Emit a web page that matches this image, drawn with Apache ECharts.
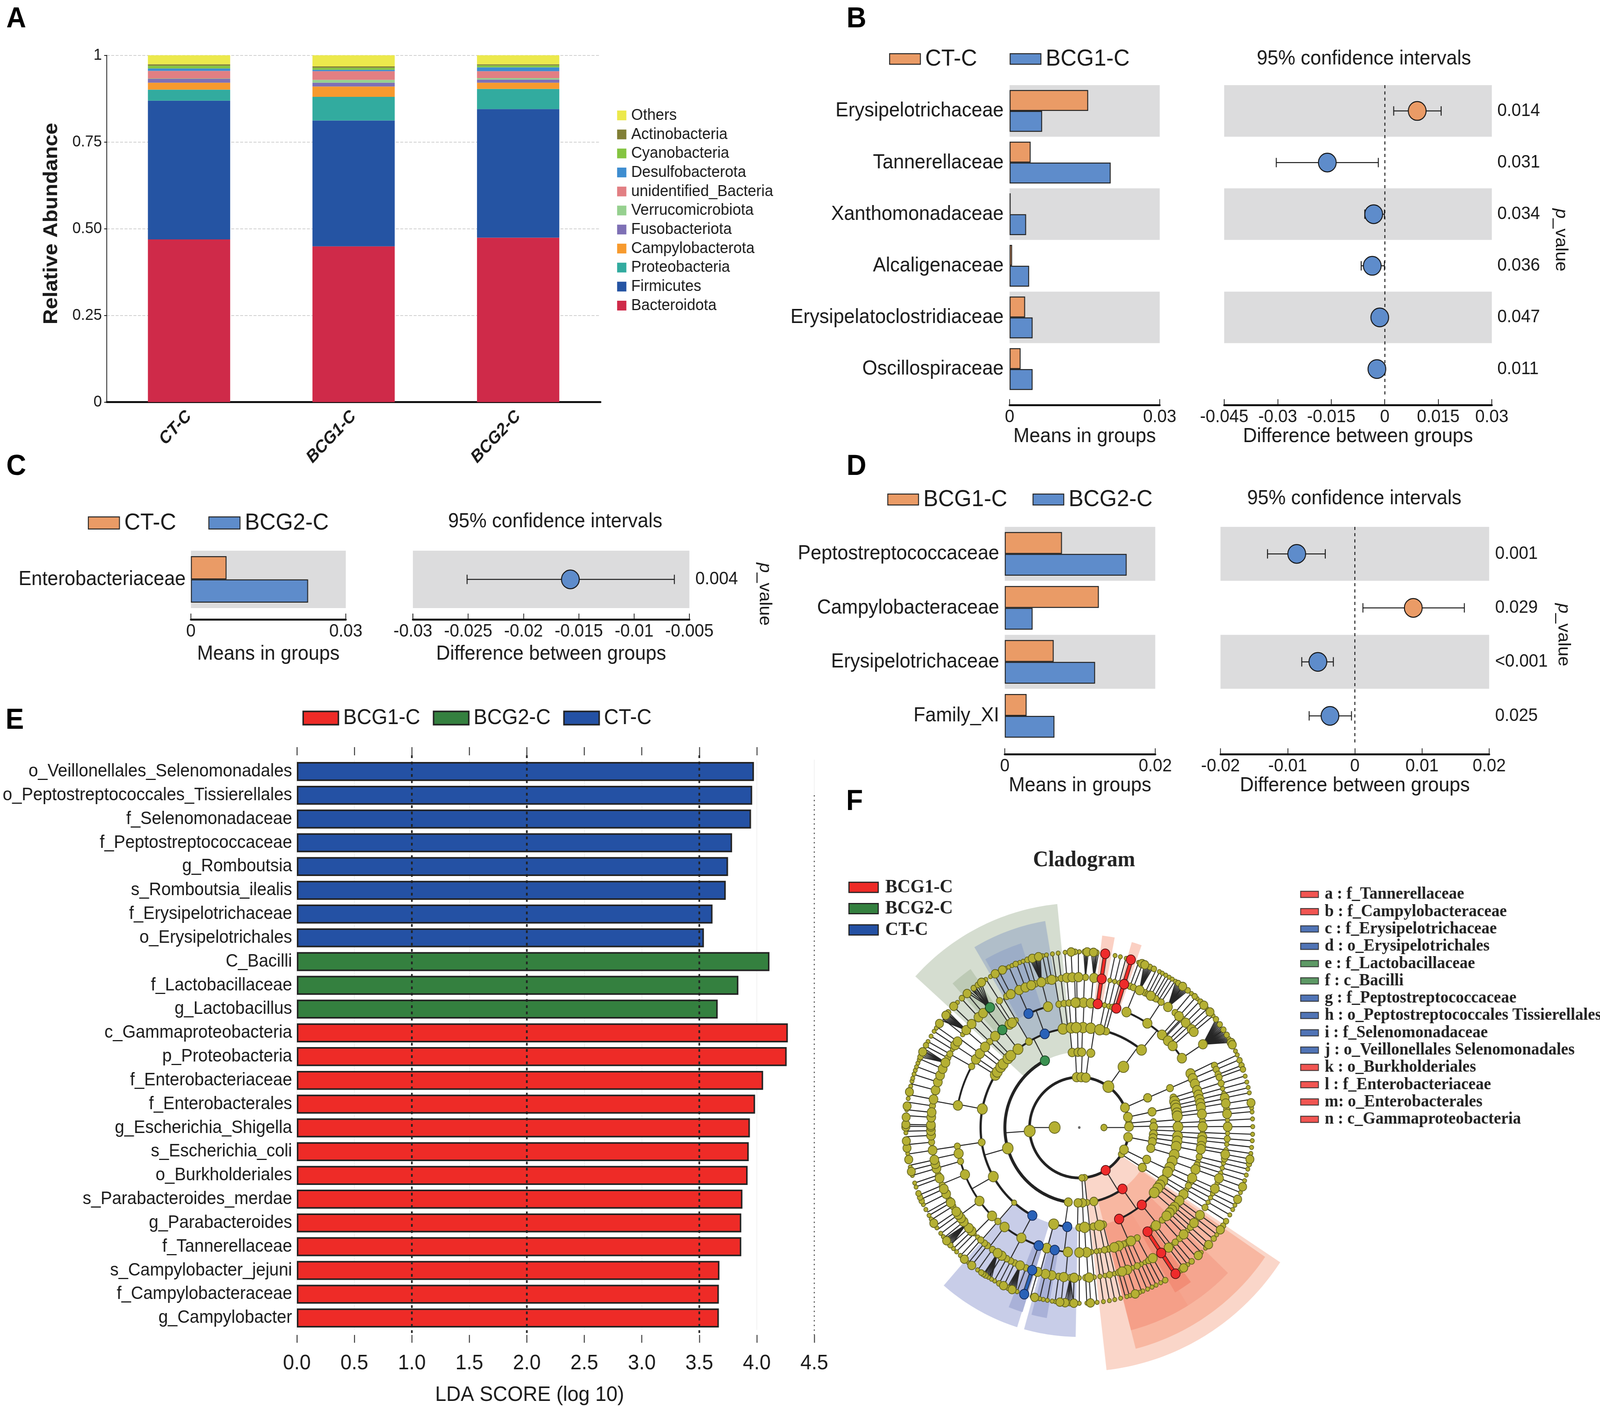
<!DOCTYPE html>
<html><head><meta charset="utf-8">
<script src="https://cdn.jsdelivr.net/npm/echarts@6/dist/echarts.min.js"></script>
<style>html,body{margin:0;padding:0;background:#fff;overflow:hidden}#c{width:4317px;height:3600px;transform-origin:0 0}</style></head>
<body><div id="c"></div>
<script>
// ---------- Panel A ----------
const phyla=['Bacteroidota','Firmicutes','Proteobacteria','Campylobacterota','Fusobacteriota','Verrucomicrobiota','unidentified_Bacteria','Desulfobacterota','Cyanobacteria','Actinobacteria','Others'];
const phylumColors=['#cf2a49','#2554a3','#32ab9f','#f79a2e','#7e70b5','#96d08f','#e27f83','#3e8dd0','#84c441','#817f35','#ece94c'];
const groupsA=['CT-C','BCG1-C','BCG2-C'];
const abundCT=[.469,.400,.032,.020,.011,.001,.022,.007,.008,.004,.026];
const abundB1=[.449,.363,.068,.030,.011,.008,.025,.004,.006,.004,.032];
const abundB2=[.474,.371,.058,.018,.009,.004,.020,.011,.006,.003,.026];
const yTicksA={0:'0',0.25:'0.25',0.5:'0.50',0.75:'0.75',1:'1'};
// ---------- Panel B ----------
const catsB=['Erysipelotrichaceae','Tannerellaceae','Xanthomonadaceae','Alcaligenaceae','Erysipelatoclostridiaceae','Oscillospiraceae'];
const meanB_CT=[.0157,.0042,.0002,.0005,.0031,.0022];
const meanB_B1=[.0065,.0202,.0033,.0039,.0046,.0046];
const diffB=[.0091,-.0161,-.0031,-.0035,-.0014,-.0022];
const loB=[.0025,-.0304,-.0056,-.0066,-.0025,-.0043];
const hiB=[.0158,-.0018,-.0001,-.0001,.0006,.0001];
const pB=['0.014','0.031','0.034','0.036','0.047','0.011'];
// ---------- Panel C ----------
const catsC=['Enterobacteriaceae'];
const meanC_CT=[.0069];
const meanC_B2=[.0227];
const diffC=[-.01576];
const loC=[-.0251];
const hiC=[-.00636];
const pC=['0.004'];
// ---------- Panel D ----------
const catsD=['Peptostreptococcaceae','Campylobacteraceae','Erysipelotrichaceae','Family_XI'];
const meanD_B1=[.0076,.0125,.0065,.0029];
const meanD_B2=[.0162,.0037,.0120,.0066];
const diffD=[-.00865,.0087,-.0055,-.0037];
const loD=[-.0130,.0012,-.0079,-.0068];
const hiD=[-.0044,.0163,-.0032,-.0005];
const pD=['0.001','0.029','<0.001','0.025'];
// ---------- Panel E ----------
const ldaNames=['o_Veillonellales_Selenomonadales','o_Peptostreptococcales_Tissierellales','f_Selenomonadaceae','f_Peptostreptococcaceae','g_Romboutsia','s_Romboutsia_ilealis','f_Erysipelotrichaceae','o_Erysipelotrichales','C_Bacilli','f_Lactobacillaceae','g_Lactobacillus','c_Gammaproteobacteria','p_Proteobacteria','f_Enterobacteriaceae','f_Enterobacterales','g_Escherichia_Shigella','s_Escherichia_coli','o_Burkholderiales','s_Parabacteroides_merdae','g_Parabacteroides','f_Tannerellaceae','s_Campylobacter_jejuni','f_Campylobacteraceae','g_Campylobacter'];
const ldaCT=[3.975,3.96,3.95,3.785,3.75,3.73,3.615,3.54,null,null,null,null,null,null,null,null,null,null,null,null,null,null,null,null];
const ldaB2=[null,null,null,null,null,null,null,null,4.11,3.84,3.66,null,null,null,null,null,null,null,null,null,null,null,null,null];
const ldaB1=[null,null,null,null,null,null,null,null,null,null,null,4.27,4.26,4.055,3.985,3.94,3.93,3.92,3.875,3.865,3.865,3.675,3.67,3.67];
const ldaDotted=[1,2,3.5];
const ldaDottedShort=[4.5];
// ---------- Panel F (angles are clockwise from the top, degrees) ----------
const ringRadius=[64,129,193,256,320,385,450];
const ring0=[[90,17],[270,30]];
const ring1m=[85,122,174,177], ring1l=[-3,2.3,7.6,66.7,78,89,101,116], ring1x=[35.8,266];
const ring2m=[85.5,92,174], ring2l=[-5.5,-1,1.9,8.9,66.8,78,89.5,95,98,101,106,115,122,168.7,177.5,181,188.5], ring2x=[36.4,254];
const ring3s=[87.3,92.7,174,221.3];
const ring3m=[14.2,15.8,66.8,72.6,119.9,166,171.7,180,261.5,329.3,353.3];
const ring3l=[-1.8,2.2,6.7,11.9,39.1,74.9,77.2,79,81.7,83.5,89.6,95,97.9,101,105.8,109.7,113.6,116.5,122.2,125.2,127.4,130.6,168.2,176.9,195,240.6,280.7,301.7,303.8,307.2,309.5,313.7,316,321.6,350.5,355.3,358.2];
const ring4s=[11.8,13.9,92.3,105.6,119.8,127.7,170.5,172,174.3,329.2];
const ring4m=[15.8,43.5,44,47.5,87,103.5,107.5,115.8,117.8,137.7,143.2,152,157.2,158.9,166.2,168.2,221.3,254.3,261.4,299.3,313.4,350.5,352.9,355.2];
const ring4l=[-1,2,5.4,22.5,33.5,42.1,46,49.2,56.3,64.4,66.9,69.6,72.7,74.9,77,78.9,80.7,83.8,89.6,94.4,96,98.6,100,109.6,113.8,122.3,125.8,129.5,131.2,133,135,141.6,155.2,161.3,163.5,176.6,180,185.3,195.3,208,217.3,225,234,247.9,258,280.2,303.1,306.3,310.2,317,325.6,327,345.3,358.2];
const ring5s=[11.9,13.8,15.6,32.3,75,76.9,87.2,92.2,96.4,98.5,103.7,105.6,107.6,111.7,116.1,117.8,119.8,127.5,133.2,141.3,153.7,155.3,158.9,166.3,170,172,174.2,180,223.2,225.1,301.3,308.2,351.1];
const ring5m=[2.4,20,21.4,26.3,27.6,30.1,31.1,33.5,40.2,44,47.5,65.6,67.3,69.3,70.5,72.9,83.1,94.3,102,122.1,131.5,137.5,139.7,152.1,157,164.6,168.2,177.5,183.5,188,201,205.8,207.5,209.3,215.8,218.3,219.7,221.6,229.8,238.4,241.2,247.4,251.6,264.4,278.3,297.6,299.3,322.1,327.5,330.7,342.8,347.8,353];
const ring5l=[5.7,24,28.8,36.7,42.2,45.8,49.2,50.5,56.4,78.6,80.8,84.8,89.7,100.3,109.7,114,125.6,129.4,135.3,143,150.3,161.1,163.2,176.2,182,186,190.7,193.2,196.3,203.5,211.5,213.4,226.5,228.1,231.2,232.9,234.6,236,240,243.8,245.9,250.3,254.2,256,257.6,261.3,267,268.8,270.4,271,273.9,275.8,280.8,284.4,287.6,290.3,293,295.6,303.2,304.9,310.4,313.5,317.2,319.6,332.5,336.1,338.7,341.1,345.2,349.3,355.2,357.3,359.7];
const ring6s=[0,11.9,13.7,15.7,20,27.5,28.6,29.9,31.2,32.4,33.7,40.3,42.8,47.2,50.5,59.6,64.2,65.6,73,75,76.8,78.6,83.6,84.9,87.2,89.7,92.2,94.3,96.5,98.5,103.7,105.7,107.6,111.7,116.2,117.8,119.8,127.6,133.3,135.3,141.3,152,153.7,155.2,156.8,158.5,159.6,163,164.1,166.2,168.2,170,172,174.1,177.5,180,187.9,189,190.6,192,193.2,195.8,201,209.2,210.4,211.6,215.9,219.6,223.3,225,226.5,231.6,233,235.2,238.6,240,242.2,244,250.2,251.6,254.2,257,261.5,268.3,275.8,279.5,283.6,285.3,286.3,287.7,289,290.2,291.5,292.7,299.3,301.3,303.2,304.5,315.4,327.4,329.2,332.3,334.9,336,337.2,339.9,341.1,347.8,349.1,351.1,353,355.3];
const ring6m=[1.8,5.7,24,25.5,34.8,38.7,41.7,44.3,52,54.1,56.2,58.2,67.5,69.3,70.7,102,122.2,124,129.2,139.6,144.2,150.3,183.2,204.1,207.5,212.7,213.6,214.4,228,245.3,246.6,248,293.7,297.9,310.9,317.4,322.5,324.2,338.5,342.6,358.6];
const ring6l=[2.6,4.7,21.2,22.2,36.6,45.9,48.9,61.1,61.9,81.9,100.4,109.7,114.1,125.6,131.8,136.7,143,161.2,176.3,181.8,184.7,186.4,194.9,202.8,205.9,218.3,221.5,229.9,237,255.5,259.5,263.3,265.6,270.2,271,273.4,277,281.7,295.5,306.3,309.7,313.6,319.7,325.7,331,333.7,344.3,346.4,357.3];
// highlighted nodes: [ring, angle]
const redNodes=[[1,148],[2,144.5],[3,140.7],[3,156.2],[4,146.4],[5,146.5],[6,146.3],[4,8.6],[5,8.7],[6,8.6],[4,17.5],[5,17.6],[6,17.3]];
const blueNodes=[[3,208.4],[3,187],[4,199.2],[5,198.5],[6,198.5],[4,191.5],[3,339.5],[4,335.7]];
const greenNodes=[[2,332.5],[4,321.4],[5,323]];
// thick arcs: [ring, from, to, width]
const arcs=[[1,101,438,7],[2,144.5,168.7,6],[2,188.5,332.5,8],[3,208.4,301,6],[3,130.6,140.7,5],[3,140.7,156.2,5],[3,187,195,5],[3,15.8,39.1,6],[3,321,350.5,5],[4,280.2,299.3,5],[4,225,254.3,5],[4,199.2,217.3,5],[4,185.3,191.5,4],[4,22.5,56.3,5],[4,335.7,345.3,5]];
// coloured thick links: [angle, ring from, ring to, colour]
const thickLinks=[[8.6,4,6,'#f02b27'],[17.5,4,6,'#f02b27'],[146.4,4,6,'#f02b27'],[198.5,5,6,'#2a62b8']];
// converging fans: [parent ring, parent angle, child ring, child angles]
const fans=[
 [5,36.7,6,[33.8,34.3,34.8,35.3,35.8,36.3,36.8,37.3,37.8,38.3,38.8]],
 [5,24,6,[22,22.5,23,23.5,24,24.5,25]],
 [5,56.4,6,[52,52.5,53,53.5,54,54.5,55,55.5,56,56.5,57,57.5,58,58.5,59,59.5,60,60.5,61]],
 [5,345.2,6,[343.5,344,344.5,345,345.5,346,346.5,347]],
 [5,323,6,[320,320.8,321.6,322.4,323.2,324,324.8,325.6]],
 [5,310.4,6,[307.5,308,308.5,309,309.5,310,310.5,311]],
 [5,295.6,6,[293.7,294.3,294.9,295.5,296.1,296.7]],
 [5,229.8,6,[227.8,228.3,228.8,229.3,229.8,230.3,230.8]],
 [5,213.4,6,[210.5,211,211.5,212,212.5,213,213.5]],
 [5,203.5,6,[201.5,202,202.5,203,203.5,204,204.5]],
 [5,183.5,6,[182,182.7,183.4,184.1,184.8]],
 [5,5.7,6,[4,4.6,5.2,5.8,6.4]],
 [5,2.4,6,[1.5,2,2.5,3]]
];
// wedges: [from, to, inner, outer, colour]
const wedges=[
 [123.5,173.5,130,625,'#fad6c9'],[124.5,165.5,193,585,'#f8b7a1'],[148.2,165.5,256,536,'#f59f88'],[134,148.2,256,536,'#f5a58f'],[143.8,149.5,322,490,'#f28d76'],
 [6.9,10.7,322,495,'#fbd0c3'],[16,19.1,322,494,'#fbd0c3'],
 [312.3,354.3,193,575,'#d5ddd0'],[329.5,350.5,256,536,'#b0bec9'],[330.5,342.3,320,495,'#9cadc7'],[318.3,325.2,322,494,'#bdcab5'],
 [197.5,221,256,536,'#c8cde8'],[181,195.5,256,536,'#c8cde8'],[197.3,201.7,322,495,'#a9b1d8'],[189.8,194.5,322,495,'#a9b1d8']
];
// wedge letters: [text, angle, radius, size, colour]
const wedgeLabels=[['f',332.3,563,30,'#444'],['d',339.3,515,30,'#3c4a66'],['c',335,474,30,'#3c4a66'],['e',320.4,480,30,'#445a44'],['b',9.1,472,30,'#6a2a20'],['a',18.2,473,30,'#6a2a20'],['h',209.9,522,30,'#3c4470'],['g',200,473,30,'#3c4470'],['i',192.6,477,30,'#3c4470'],['j',187.9,517,30,'#3c4470'],['k',156.3,517,30,'#6a2a20'],['l',146.4,483,30,'#6a2a20'],['m',140.4,522,30,'#6a2a20'],['n',143.9,565,30,'#6a2a20'],['p__Proteobacteria',147.4,608,25,'#6a2a20']];
const keyNames=['a : f_Tannerellaceae','b : f_Campylobacteraceae','c : f_Erysipelotrichaceae','d : o_Erysipelotrichales','e : f_Lactobacillaceae','f : c_Bacilli','g : f_Peptostreptococcaceae','h : o_Peptostreptococcales Tissierellales','i : f_Selenomonadaceae','j : o_Veillonellales Selenomonadales','k : o_Burkholderiales','l : f_Enterobacteriaceae','m: o_Enterobacterales','n : c_Gammaproteobacteria'];
const keyGroups=['r','r','b','b','g','g','b','b','b','b','r','r','r','r'];

// ---------- assembling ----------
const SANS='"Liberation Sans",Arial,sans-serif', SERIF='"Liberation Serif",serif';
const INK='#1a1a1a', ORANGE='#ea9b66', BLUEBAR='#5e8ccb', LRED='#ee2b27', LGREEN='#34803f', LBLUE='#2451a4';
const grids=[],xAxis=[],yAxis=[],series=[],legend=[],title=[];
const rect=(c,bw)=>({color:c,borderColor:'#222',borderWidth:bw||2.5});

// Panel letters + headings
[['A',17,13],['B',2284,13],['C',17,1159],['D',2284,1159],['E',15,1809],['F',2283,2017]].forEach(t=>title.push({text:t[0],left:t[1],top:t[2],padding:0,textStyle:{fontFamily:SANS,fontWeight:'bold',fontSize:74,color:'#000'}}));
[[3680,125],[1498,1310],[3654,1251]].forEach(t=>title.push({text:'95% confidence intervals',left:t[0],top:t[1],padding:0,textAlign:'center',textStyle:{fontFamily:SANS,fontWeight:'normal',fontSize:52,color:INK}}));
title.push({text:'Cladogram',left:2925,top:2175,padding:0,textAlign:'center',textStyle:{fontFamily:SERIF,fontWeight:'bold',fontSize:57,color:'#222'}});

// Panel A
grids.push({left:288,top:141.5,width:1332,height:888});
xAxis.push({type:'category',gridIndex:0,data:groupsA,axisLine:{lineStyle:{color:'#111',width:5}},axisTick:{length:8,lineStyle:{color:'#111',width:2}},axisLabel:{rotate:45,interval:0,margin:30,fontFamily:SANS,fontSize:44,fontStyle:'italic',fontWeight:'bold',color:INK}});
yAxis.push({type:'value',gridIndex:0,min:0,max:1,interval:.25,name:'Relative Abundance',nameLocation:'middle',nameGap:122,nameTextStyle:{fontFamily:SANS,fontSize:54,fontWeight:'bold',color:INK,padding:[0,0,0,26]},axisLine:{show:true,lineStyle:{color:'#111',width:2}},axisTick:{show:true,length:7,lineStyle:{color:'#111',width:2}},axisLabel:{margin:13,fontFamily:SANS,fontSize:41,color:INK,formatter:v=>yTicksA[v]},splitLine:{show:true,lineStyle:{type:'dashed',color:'#cfcfcf',width:2}}});
phyla.forEach((n,i)=>series.push({name:n,type:'bar',stack:'A',xAxisIndex:0,yAxisIndex:0,barWidth:'50%',data:[abundCT[i],abundB1[i],abundB2[i]],itemStyle:{color:phylumColors[i]}}));
legend.push({orient:'vertical',left:1660,top:270,itemWidth:25,itemHeight:25,itemGap:7.7,selectedMode:false,icon:'rect',data:phyla.slice().reverse(),textStyle:{fontFamily:SANS,fontSize:41,lineHeight:40,color:INK,padding:[0,0,0,8]}});

// comparison panels B, C, D
function comparison(o){
 const gi=grids.length;
 grids.push({left:o.ml,top:o.top,width:o.mw,height:o.h});
 grids.push({left:o.dl,top:o.top,width:o.dw,height:o.h});
 const xa=xAxis.length, ya=yAxis.length;
 const xCommon={type:'value',offset:o.off,position:'bottom',axisLine:{show:true,lineStyle:{color:'#111',width:5}},axisTick:{show:true,inside:true,length:15,lineStyle:{color:'#111',width:2}},splitLine:{show:false},axisLabel:{margin:8,fontFamily:SANS,fontSize:46,color:INK},nameLocation:'middle',nameGap:o.ng,nameTextStyle:{fontFamily:SANS,fontSize:52,color:INK}};
 xAxis.push(Object.assign({},xCommon,{gridIndex:gi,min:0,max:o.mmax,interval:o.mmax,name:'Means in groups'}));
 xAxis.push(Object.assign({},xCommon,{gridIndex:gi+1,min:o.dmin,max:o.dmax,interval:o.dint,name:'Difference between groups'}));
 const split={show:true,interval:0,areaStyle:{color:['#dcdcdd','#ffffff']}};
 yAxis.push({type:'category',inverse:true,gridIndex:gi,data:o.cats,axisLine:{show:false},axisTick:{show:false},splitLine:{show:false},splitArea:split,axisLabel:{interval:0,margin:o.lm,fontFamily:SANS,fontSize:52,color:INK}});
 yAxis.push({type:'category',inverse:true,gridIndex:gi+1,data:o.cats,axisLine:{show:false},axisTick:{show:false},splitLine:{show:false},splitArea:split,axisLabel:{show:false}});
 yAxis.push({type:'category',inverse:true,gridIndex:gi+1,position:'right',data:o.p,axisLine:{show:false},axisTick:{show:false},splitLine:{show:false},
   axisLabel:{interval:0,margin:o.pm,fontFamily:SANS,fontSize:46,color:INK},
   name:'{i|p}_value',nameLocation:'middle',nameRotate:-90,nameGap:o.pg,nameTextStyle:{fontFamily:SANS,fontSize:46,color:INK,padding:o.pp||0,rich:{i:{fontStyle:'italic',fontFamily:SANS,fontSize:46,color:INK}}}});
 const bar=(name,d,c)=>({name,type:'bar',xAxisIndex:xa,yAxisIndex:ya,barGap:0,barCategoryGap:'19%',data:d,itemStyle:rect(c),z:3});
 series.push(bar(o.na,o.a,ORANGE),bar(o.nb,o.b,BLUEBAR));
 series.push({type:'custom',name:'ci',xAxisIndex:xa+1,yAxisIndex:ya+1,z:3,silent:true,clip:false,
   encode:{x:[0,1],y:2},data:o.cats.map((c,i)=>[o.lo[i],o.hi[i],c]),
   renderItem:(p,api)=>{const y=api.value(2),a=api.coord([api.value(0),y]),b=api.coord([api.value(1),y]),s={stroke:'#1a1a1a',lineWidth:2.5};
     return {type:'group',children:[{type:'line',shape:{x1:a[0],y1:a[1],x2:b[0],y2:b[1]},style:s},{type:'line',shape:{x1:a[0],y1:a[1]-12,x2:a[0],y2:a[1]+12},style:s},{type:'line',shape:{x1:b[0],y1:b[1]-12,x2:b[0],y2:b[1]+12},style:s}]};}});
 series.push({type:'scatter',name:'difference',xAxisIndex:xa+1,yAxisIndex:ya+1,z:4,symbolSize:o.ss||48,silent:true,
   data:o.cats.map((c,i)=>({value:[o.d[i],c],itemStyle:{color:o.d[i]>0?ORANGE:BLUEBAR,borderColor:'#111',borderWidth:2.5,opacity:1}})),
   markLine:o.zero?{silent:true,symbol:'none',label:{show:false},z:2,lineStyle:{color:'#111',type:[8,8],width:2.5},data:[{xAxis:0}]}:undefined});
}
comparison({cats:catsB,a:meanB_CT,b:meanB_B1,na:'CT-C',nb:'BCG1-C',d:diffB,lo:loB,hi:hiB,p:pB,ml:2724,mw:405,dl:3303,dw:722,top:218,h:793,off:26,ng:53,mmax:.03,dmin:-.045,dmax:.03,dint:.015,lm:16,pm:15,pg:163,zero:true});
comparison({cats:catsC,a:meanC_CT,b:meanC_B2,na:'CT-C',nb:'BCG2-C',d:diffC,lo:loC,hi:hiC,p:pC,ml:515,mw:418,dl:1114,dw:746,top:1410,h:147,off:29,ng:63,mmax:.03,dmin:-.03,dmax:-.005,dint:.005,lm:14,pm:16,pg:180,pp:[0,0,0,76],zero:false});
comparison({cats:catsD,a:meanD_B1,b:meanD_B2,na:'BCG1-C',nb:'BCG2-C',d:diffD,lo:loD,hi:hiD,p:pD,ml:2711,mw:406,dl:3293,dw:725,top:1349,h:553,off:29,ng:55,mmax:.02,dmin:-.02,dmax:.02,dint:.01,lm:15,pm:16,pg:177,zero:true});
const lg2=(l,t,w,h,gap,n1,n2)=>({left:l,top:t,itemWidth:w,itemHeight:h,itemGap:gap,selectedMode:false,icon:'rect',
  data:[{name:n1,itemStyle:rect(ORANGE,2.5)},{name:n2,itemStyle:rect(BLUEBAR,2.5)}],textStyle:{fontFamily:SANS,fontSize:60,color:INK,padding:[0,0,0,8]}});
legend.push(lg2(2394,116,83,27,88,'CT-C','BCG1-C'),lg2(232,1304,84,31,87,'CT-C','BCG2-C'),lg2(2389,1244,83,28,68,'BCG1-C','BCG2-C'));

// Panel E
let gi=grids.length,xa=xAxis.length,ya=yAxis.length;
grids.push({left:801,top:1945,width:1396,height:1479});
const ldaTicks=[0,.5,1,1.5,2,2.5,3,3.5,4];
xAxis.push({type:'value',gridIndex:gi,min:0,max:4.5,interval:.5,offset:13,position:'bottom',axisLine:{show:false},axisTick:{show:true,length:20,lineStyle:{color:'#333',width:2.5}},splitLine:{show:true,lineStyle:{color:'#ececec',width:1.5}},axisLabel:{margin:46,fontFamily:SANS,fontSize:54,color:INK,formatter:v=>v.toFixed(1)},name:'LDA SCORE (log 10)',nameLocation:'middle',nameGap:127,nameTextStyle:{fontFamily:SANS,fontSize:54,color:INK,padding:[0,140,0,0]}});
xAxis.push({type:'value',gridIndex:gi,min:0,max:4.5,interval:.5,offset:11,position:'top',axisLine:{show:false},axisTick:{show:true,length:21,customValues:ldaTicks,lineStyle:{color:'#333',width:2.5}},splitLine:{show:false},axisLabel:{show:false}});
yAxis.push({type:'category',inverse:true,gridIndex:gi,data:ldaNames,axisLine:{show:false},axisTick:{show:false},axisLabel:{interval:0,margin:13,fontFamily:SANS,fontSize:46,color:INK}});
const ldaBar=(n,d,c)=>({name:n,type:'bar',stack:'lda',xAxisIndex:xa,yAxisIndex:ya,barCategoryGap:'20%',data:d,itemStyle:rect(c,4),z:3});
series.push(ldaBar('CT-C',ldaCT,LBLUE),ldaBar('BCG2-C',ldaB2,LGREEN),ldaBar('BCG1-C',ldaB1,LRED));
series.push({type:'custom',name:'dotted',xAxisIndex:xa,yAxisIndex:ya,z:6,silent:true,clip:false,encode:{x:0},
  data:ldaDotted.map(v=>[v,0]).concat(ldaDottedShort.map(v=>[v,1])),
  renderItem:(p,api)=>{const x=api.coord([api.value(0),0])[0],short=api.value(1)===1,c=p.coordSys;
    const y1=short?api.coord([0,1])[1]:c.y-11,y2=c.y+c.height+13;
    return {type:'line',shape:{x1:x,y1,x2:x,y2},style:{stroke:'#222',lineWidth:short?2.5:4.5,lineDash:short?[3,9]:[7,9]}};}});
legend.push({left:811,top:1806,itemWidth:95,itemHeight:34,itemGap:34,selectedMode:false,icon:'rect',
  data:[{name:'BCG1-C',itemStyle:rect(LRED,4)},{name:'BCG2-C',itemStyle:rect(LGREEN,4)},{name:'CT-C',itemStyle:rect(LBLUE,4)}],
  textStyle:{fontFamily:SANS,fontSize:55,color:INK,padding:[0,0,0,8]}});

// Panel F : cartesian frame scaled 1.04:1 as in the stretched picture
gi=grids.length;xa=xAxis.length;ya=yAxis.length;
grids.push({left:2184,top:2187,width:1456,height:1400});
xAxis.push({type:'value',gridIndex:gi,min:-700,max:700,show:false});
yAxis.push({type:'value',gridIndex:gi,min:-700,max:700,show:false});
const rad=Math.PI/180;
const XY=(a,r)=>[r*Math.sin(a*rad),r*Math.cos(a*rad)];
const fAxes={xAxisIndex:xa,yAxisIndex:ya,silent:true,clip:false};
series.push(Object.assign({type:'custom',name:'wedges',z:1,data:wedges.map((w,i)=>[i]),
  renderItem:(p,api)=>{const w=wedges[p.dataIndex],pts=[];
    for(let a=w[0];a<w[1];a+=1)pts.push(api.coord(XY(a,w[3])));
    pts.push(api.coord(XY(w[1],w[3])));
    for(let a=w[1];a>w[0];a-=1)pts.push(api.coord(XY(a,w[2])));
    pts.push(api.coord(XY(w[0],w[2])));
    return {type:'polygon',shape:{points:pts},style:{fill:w[4]}};}},fAxes));
const thinLinks=[];
const emit=(ring,list)=>list.forEach(a=>{if(ring<6)thinLinks.push([a,ringRadius[ring],a,ringRadius[ring+1]]);});
emit(0,ring0.map(n=>n[0]));
[[1,[ring1m,ring1l,ring1x]],[2,[ring2m,ring2l,ring2x]],[3,[ring3s,ring3m,ring3l]],[4,[ring4s,ring4m,ring4l]],[5,[ring5s,ring5m,ring5l]]].forEach(e=>e[1].forEach(l=>emit(e[0],l)));
redNodes.concat(blueNodes,greenNodes).forEach(n=>emit(n[0],[n[1]]));
fans.forEach(f=>f[3].forEach(a=>thinLinks.push([f[1],ringRadius[f[0]],a,ringRadius[f[2]]])));
series.push(Object.assign({type:'custom',name:'links',z:2,data:thinLinks.map((l,i)=>[i]),
  renderItem:(p,api)=>{const l=thinLinks[p.dataIndex],a=api.coord(XY(l[0],l[1])),b=api.coord(XY(l[2],l[3]));
    return {type:'line',shape:{x1:a[0],y1:a[1],x2:b[0],y2:b[1]},style:{stroke:'#262626',lineWidth:2.6}};}},fAxes));
series.push(Object.assign({type:'custom',name:'arcs',z:2,data:arcs.map((l,i)=>[i]),
  renderItem:(p,api)=>{const l=arcs[p.dataIndex],pts=[],r=ringRadius[l[0]];
    for(let a=l[1];a<l[2];a+=1)pts.push(api.coord(XY(a,r)));
    pts.push(api.coord(XY(l[2],r)));
    return {type:'polyline',shape:{points:pts},style:{stroke:'#222',fill:null,lineWidth:l[3]}};}},fAxes));
series.push(Object.assign({type:'custom',name:'thick',z:3,data:thickLinks.map((l,i)=>[i]),
  renderItem:(p,api)=>{const l=thickLinks[p.dataIndex],a=api.coord(XY(l[0],ringRadius[l[1]])),b=api.coord(XY(l[0],ringRadius[l[2]]));
    return {type:'group',children:[{type:'line',shape:{x1:a[0],y1:a[1],x2:b[0],y2:b[1]},style:{stroke:'#222',lineWidth:11}},{type:'line',shape:{x1:a[0],y1:a[1],x2:b[0],y2:b[1]},style:{stroke:l[3],lineWidth:7.5}}]};}},fAxes));
const nodeSeries=(items,color,border,z)=>series.push(Object.assign({type:'scatter',name:'nodes',z:z||4,symbolSize:v=>v[2],itemStyle:{color,borderColor:border,borderWidth:1.8,opacity:1},data:items},fAxes));
const nodesOf=(ring,list,size)=>list.map(a=>XY(a,ringRadius[ring]).concat(size));
const OL='#b5b033',OB='#5f5f1c';
nodeSeries([[0,0,5]],'#666','#666');
nodeSeries([].concat(
  ring0.map(n=>XY(n[0],ringRadius[0]).concat(n[1])),
  nodesOf(6,ring6s,11),nodesOf(6,ring6m,15),nodesOf(6,ring6l,22),
  nodesOf(5,ring5s,12),nodesOf(5,ring5m,17),nodesOf(5,ring5l,24),
  nodesOf(4,ring4s,13),nodesOf(4,ring4m,17),nodesOf(4,ring4l,25),
  nodesOf(3,ring3s,14),nodesOf(3,ring3m,19),nodesOf(3,ring3l,27),
  nodesOf(2,ring2m,16),nodesOf(2,ring2l,22),nodesOf(2,ring2x,29),
  nodesOf(1,ring1m,17),nodesOf(1,ring1l,24),nodesOf(1,ring1x,30)),OL,OB);
const hl=l=>l.map(n=>XY(n[1],ringRadius[n[0]]).concat(25));
nodeSeries(hl(redNodes),'#ee2b2b','#4a0f0f',5);
nodeSeries(hl(blueNodes),'#2a62b8','#0e2350',5);
nodeSeries(hl(greenNodes),'#3a9150','#123a1c',5);
series.push(Object.assign({type:'scatter',name:'wedge letters',z:6,symbolSize:1,itemStyle:{opacity:0},
  data:wedgeLabels.map(w=>({value:XY(w[1],w[2]),label:{show:true,position:'inside',formatter:w[0],rotate:-w[1],fontFamily:SANS,fontSize:w[3],color:w[4]}}))},fAxes));
// legends of F
legend.push({orient:'vertical',left:2284,top:2242,itemWidth:79,itemHeight:26,itemGap:4.5,selectedMode:false,icon:'rect',
  data:[{name:'BCG1-C',itemStyle:rect(LRED,3)},{name:'BCG2-C',itemStyle:rect(LGREEN,3)},{name:'CT-C',itemStyle:rect(LBLUE,3)}],
  textStyle:{fontFamily:SERIF,fontWeight:'bold',fontSize:49,lineHeight:50,color:'#222',padding:[0,0,0,14]}});
const keyColor={r:LRED,g:LGREEN,b:LBLUE};
keyNames.forEach((n,i)=>series.push(Object.assign({type:'scatter',name:n,data:[],itemStyle:{color:keyColor[keyGroups[i]]}},fAxes)));
legend.push({orient:'vertical',left:3503,top:2263,itemWidth:48,itemHeight:16,itemGap:.3,selectedMode:false,icon:'rect',
  data:keyNames.map((n,i)=>({name:n,itemStyle:rect(keyColor[keyGroups[i]],2.5)})),
  textStyle:{fontFamily:SERIF,fontWeight:'bold',fontSize:44,lineHeight:44,color:'#222',padding:[0,0,0,12]}});

// The layout is measured in the 4317x3600 reference frame; fit that frame to the actual window.
const box=document.getElementById('c');
box.style.transform='scale('+(window.innerWidth/4317)+','+(window.innerHeight/3600)+')';
const chart=echarts.init(box,null,{renderer:'canvas',width:4317,height:3600});
chart.setOption({backgroundColor:'#fff',animation:false,tooltip:{show:false},title,legend,grid:grids,xAxis,yAxis,series});
</script></body></html>
